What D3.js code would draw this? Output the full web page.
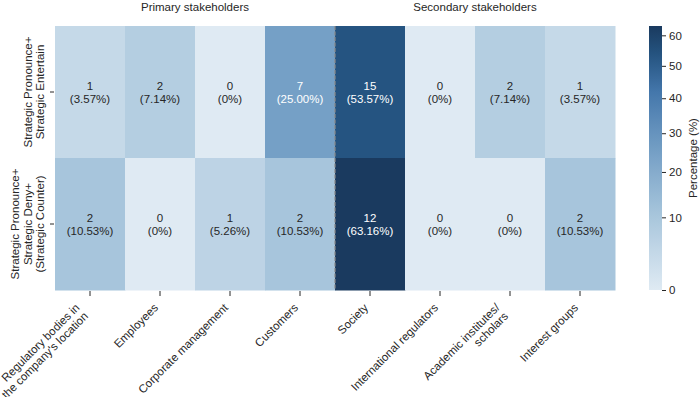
<!DOCTYPE html>
<html>
<head>
<meta charset="utf-8">
<script src="https://cdn.jsdelivr.net/npm/d3@7"></script>
<style>
  body { margin: 0; background: #fff; }
  text { font-family: "Liberation Sans", Arial, sans-serif; fill: #262626; }
</style>
</head>
<body>
<div id="container"></div>
<script>
/**
 * DATA
 * */
const stakeholders = [
  "Regulatory bodies in\nthe company's location",
  "Employees",
  "Corporate management",
  "Customers",
  "Society",
  "International regulators",
  "Academic institutes/\nscholars",
  "Interest groups"
];
const strategies = [
  "Strategic Pronounce+\nStrategic Entertain",
  "Strategic Pronounce+\nStrategic Deny+\n(Strategic Counter)"
];
const counts = [
  [1, 2, 0, 7, 15, 0, 2, 1],
  [2, 0, 1, 2, 12, 0, 0, 2]
];
const percents = [
  [3.57, 7.14, 0, 25.00, 53.57, 0, 7.14, 3.57],
  [10.53, 0, 5.26, 10.53, 63.16, 0, 0, 10.53]
];
const groups = [
  { name: "Primary stakeholders", from: 0, to: 4 },
  { name: "Secondary stakeholders", from: 4, to: 8 }
];
const colorTicks = [0, 10, 20, 30, 40, 50, 60];

/**
 * LAYOUT
 * */
const width = 700, height = 397;
const plot = { left: 55, right: 615, top: 26, bottom: 290 };
const bar = { x: 649, w: 13 };
const fs = "11.5px";

const svg = d3.select("#container").append("svg")
  .attr("width", width).attr("height", height);

const x = d3.scaleBand().domain(d3.range(stakeholders.length))
  .range([plot.left, plot.right]);
const y = d3.scaleBand().domain(d3.range(strategies.length))
  .range([plot.top, plot.bottom]);

const vmax = d3.max(percents.flat());
// power norm (gamma 0.7) like the reference colorbar
const norm = d3.scalePow().exponent(0.7).domain([0, vmax]).range([0, 1]);
const ramp = d3.scaleLinear()
  .domain([0, 0.28, 0.52, 0.75, 0.89, 1])
  .range(["#dfeaf3", "#a8c6dc", "#76a0c6", "#4477ab", "#255481", "#1a3a5f"])
  .interpolate(d3.interpolateRgb);
const color = v => ramp(norm(v));

// cells
const cells = [];
percents.forEach((row, r) => row.forEach((p, c) => cells.push({ r, c, p, n: counts[r][c] })));

svg.append("g").selectAll("rect")
  .data(cells)
  .join("rect")
  .attr("x", d => x(d.c))
  .attr("y", d => y(d.r))
  .attr("width", x.bandwidth() + 0.5)
  .attr("height", y.bandwidth() + 0.5)
  .attr("fill", d => color(d.p));

const labels = svg.append("g").selectAll("text")
  .data(cells)
  .join("text")
  .attr("text-anchor", "middle")
  .style("font-size", fs)
  .style("fill", d => d.p > 20 ? "#ffffff" : "#262626");
labels.append("tspan")
  .attr("x", d => x(d.c) + x.bandwidth() / 2)
  .attr("y", d => y(d.r) + y.bandwidth() / 2 - 2)
  .text(d => d.n);
labels.append("tspan")
  .attr("x", d => x(d.c) + x.bandwidth() / 2)
  .attr("y", d => y(d.r) + y.bandwidth() / 2 + 11)
  .text(d => "(" + (d.p === 0 ? "0" : d.p.toFixed(2)) + "%)");

// dashed group separator
svg.append("line")
  .attr("x1", x(4)).attr("x2", x(4))
  .attr("y1", plot.top).attr("y2", plot.bottom)
  .attr("stroke", "#8a8a8a").attr("stroke-width", 1.2)
  .attr("stroke-dasharray", "4,1.5");

// group titles
svg.append("g").selectAll("text")
  .data(groups)
  .join("text")
  .attr("x", d => (x(d.from) + x(d.to - 1) + x.bandwidth()) / 2)
  .attr("y", 11)
  .attr("text-anchor", "middle")
  .style("font-size", fs)
  .text(d => d.name);

// x ticks + rotated labels, right aligned, block corner at the tick
const lh = 12, asc = 9, desc = 3;
const xt = svg.append("g").selectAll("g")
  .data(stakeholders)
  .join("g")
  .attr("transform", (d, i) => `translate(${x(i) + x.bandwidth() / 2},${plot.bottom})`);
xt.append("line").attr("y1", 1).attr("y2", 6).attr("stroke", "#262626");
xt.each(function (d) {
  const lines = d.split("\n");
  const H = asc + desc + (lines.length - 1) * lh;
  const g = d3.select(this).append("g")
    .attr("transform", `translate(${-0.707 * H + 1},12) rotate(-45)`);
  g.append("text").style("font-size", fs).attr("text-anchor", "end")
    .selectAll("tspan").data(lines).join("tspan")
    .attr("x", 0)
    .attr("y", (l, i) => asc + i * lh)
    .text(l => l);
});

// y ticks + rotated labels
const yt = svg.append("g").selectAll("g")
  .data(strategies)
  .join("g")
  .attr("transform", (d, i) => `translate(${plot.left},${y(i) + y.bandwidth() / 2})`);
yt.append("line").attr("x1", -5).attr("x2", -1).attr("stroke", "#262626");
yt.each(function (d) {
  const lines = d.split("\n");
  const t = d3.select(this).append("text")
    .attr("transform", "rotate(-90)")
    .attr("text-anchor", "middle")
    .style("font-size", fs);
  t.selectAll("tspan").data(lines).join("tspan")
    .attr("x", 0)
    .attr("y", (l, i) => -11 - (lines.length - 1 - i) * 12.5)
    .text(l => l);
});

// colorbar
const cb = d3.scalePow().exponent(0.7).domain([0, vmax]).range([plot.bottom, plot.top]);
const defs = svg.append("defs");
const grad = defs.append("linearGradient").attr("id", "cbar")
  .attr("x1", 0).attr("x2", 0).attr("y1", 1).attr("y2", 0);
d3.range(0, 1.0001, 0.05).forEach(t => {
  grad.append("stop").attr("offset", t).attr("stop-color", ramp(t));
});
svg.append("rect")
  .attr("x", bar.x).attr("y", plot.top)
  .attr("width", bar.w).attr("height", plot.bottom - plot.top)
  .attr("fill", "url(#cbar)");

const cbAxis = svg.append("g")
  .attr("transform", `translate(${bar.x + bar.w},0)`)
  .call(d3.axisRight(cb).tickValues(colorTicks).tickSize(4).tickPadding(3));
cbAxis.select(".domain").remove();
cbAxis.selectAll("line").attr("stroke", "#262626");
cbAxis.selectAll("text").style("font-size", fs)
  .style("font-family", "'Liberation Sans', Arial, sans-serif").attr("fill", "#262626");

svg.append("text")
  .attr("transform", `translate(697,${(plot.top + plot.bottom) / 2}) rotate(-90)`)
  .attr("text-anchor", "middle")
  .style("font-size", fs)
  .text("Percentage (%)");
</script>
</body>
</html>
